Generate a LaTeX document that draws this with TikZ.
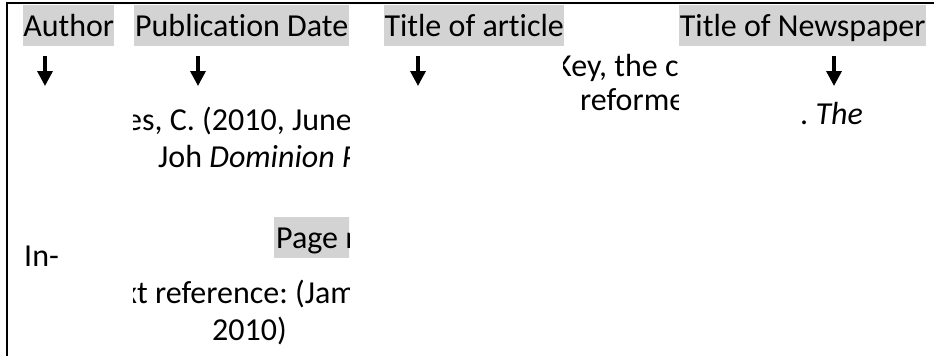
\documentclass[tikz,border=0pt]{standalone}
\usepackage{fontspec}
\setmainfont[Ligatures=NoCommon]{Carlito}
\usetikzlibrary{arrows.meta}
\definecolor{labelgray}{RGB}{211,211,211}
\frenchspacing
\begin{document}
\begin{tikzpicture}[x=1pt,y=-1pt,
  every node/.style={inner sep=0pt, font=\fontsize{32}{38}\selectfont},
  fieldlabel/.style={fill=labelgray, anchor=north west, minimum height=41pt,
    text height=27pt, text depth=5pt},
  txt/.style={anchor=base west},
  downarrow/.style={line width=3.4pt, -{Triangle[width=15pt,length=15pt]}}]
\useasboundingbox (0,0) rectangle (934,356);

% frame (top and left edges)
\draw[line width=2.2pt] (934,3) -- (7,3) -- (7,356);

% highlighted field labels
\node[fieldlabel, minimum width=91pt]  (author)   at (23,5)  {Author};
\node[fieldlabel, minimum width=215pt] (pubdate)  at (134,5) {Publication Date};
\node[fieldlabel, minimum width=180pt] (arttitle) at (384,5) {Title of article};
\node[fieldlabel, minimum width=247pt] (paper)    at (679,5) {Title of Newspaper};

% pointer arrows
\coordinate (a1) at (45,56);  \coordinate (a1t) at (45,86);
\coordinate (a2) at (198,56); \coordinate (a2t) at (198,86);
\coordinate (a3) at (418,56); \coordinate (a3t) at (418,86);
\coordinate (a4) at (834,56); \coordinate (a4t) at (834,86);
\draw[downarrow] (a1) -- (a1t);
\draw[downarrow] (a2) -- (a2t);
\draw[downarrow] (a3) -- (a3t);
\draw[downarrow] (a4) -- (a4t);

% citation column (clipped)
\begin{scope}
  \clip (133,50) rectangle (349,356);
  \node[txt] (cite1) at (126,130) {es, C. (2010, June 5).};
  \node[txt] (cite2) at (158,167) {Joh \textit{Dominion Post}};
  \node[fill=labelgray, anchor=north west, minimum height=41pt,
        text height=27pt, text depth=5pt, inner xsep=2pt] (pages) at (274,217) {Page number};
  \node[txt] (intext1) at (123,303) {xt reference: (James,};
  \node[txt] (intext2) at (212,340) {2010)};
\end{scope}

% article title column (clipped)
\begin{scope}
  \clip (563,50) rectangle (678,356);
  \node[txt] (title1) at (555,76)  {Key, the colonial};
  \node[txt] (title2) at (580,110) {reformer.};
\end{scope}

\node[txt] (paperitalic) at (800,124) {. \textit{The}};
\node[txt] (inprefix) at (24,266) {In-};
\end{tikzpicture}
\end{document}
